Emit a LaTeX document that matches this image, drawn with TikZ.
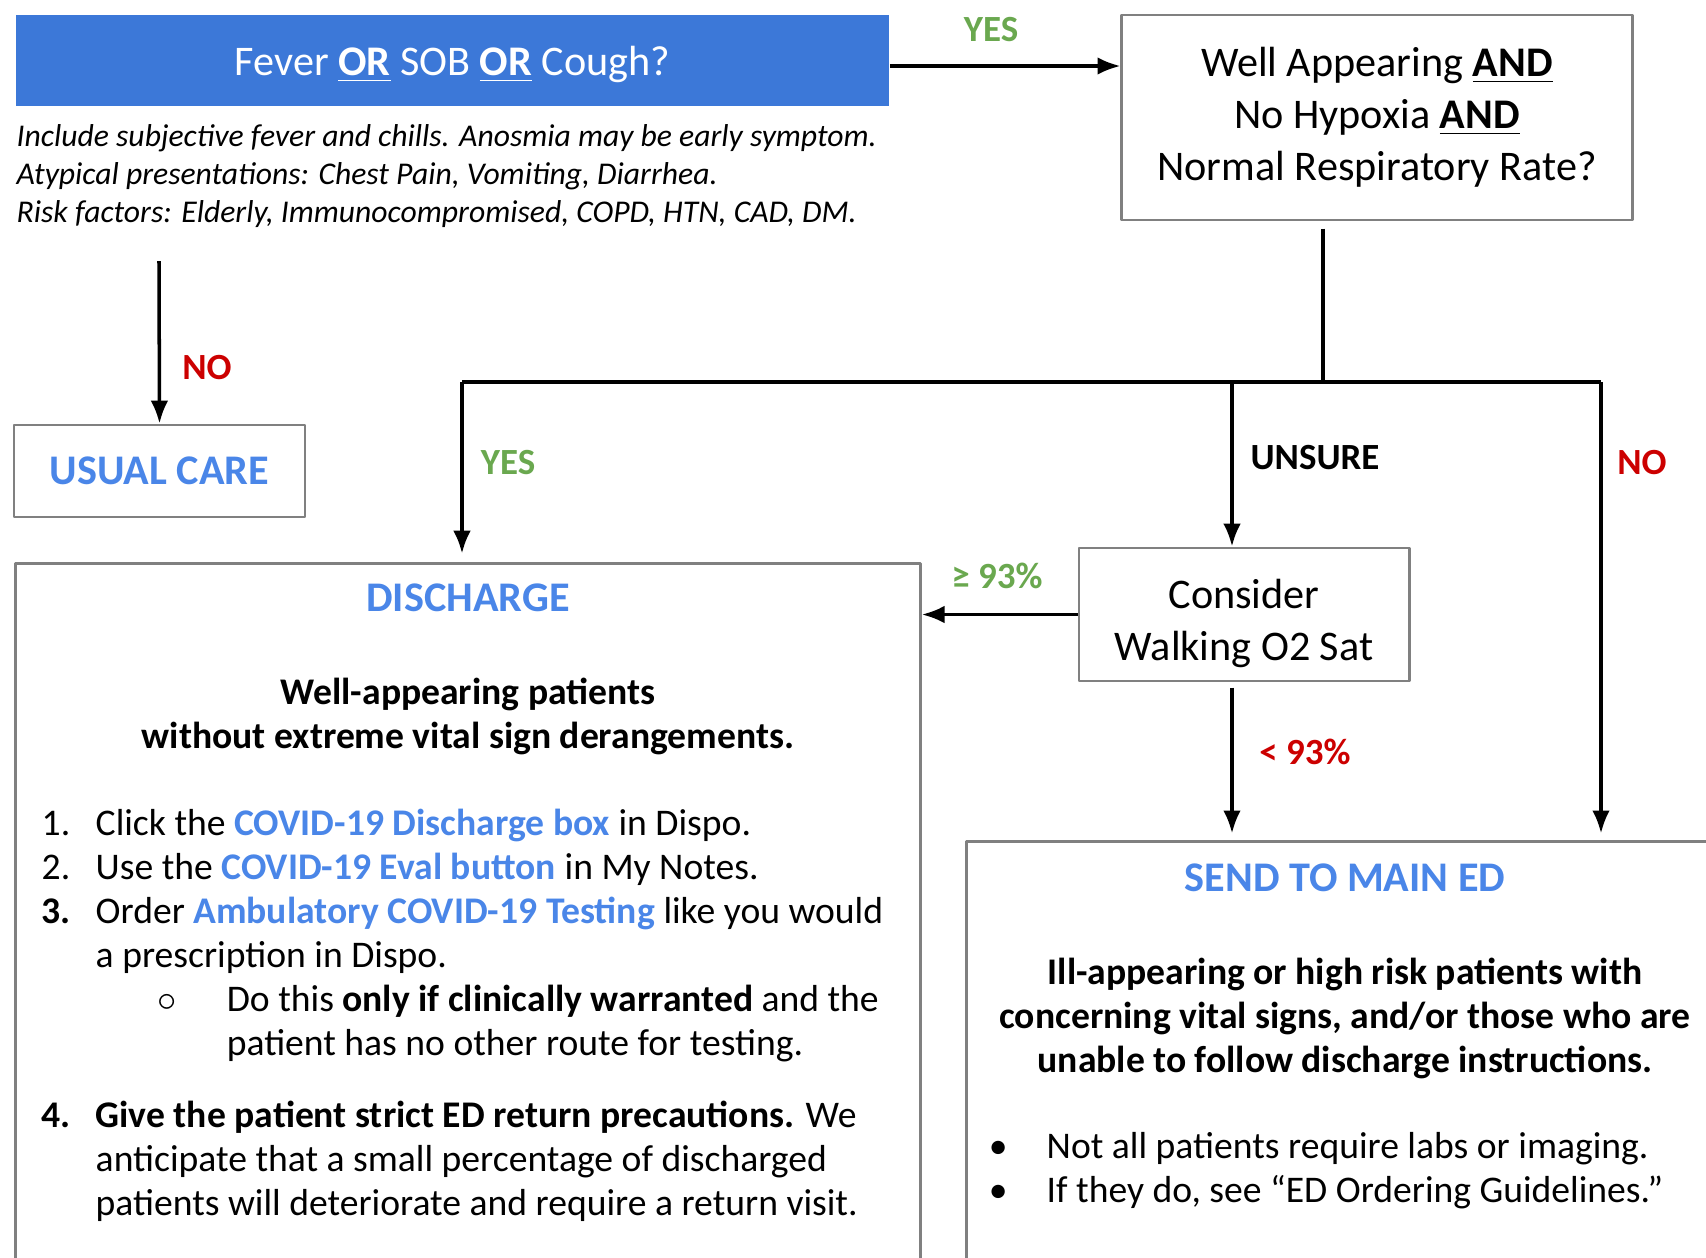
\documentclass[tikz,border=0pt]{standalone}
\usepackage{fontspec}
\setmainfont{Carlito}
\usetikzlibrary{arrows.meta}
\definecolor{boxblue}{HTML}{3C78D8}
\definecolor{txtblue}{HTML}{4A86E8}
\definecolor{yesgreen}{HTML}{6AA84F}
\definecolor{nored}{HTML}{CC0000}
\definecolor{framegray}{HTML}{808080}
\newcommand\blu[1]{\textcolor{txtblue}{\textbf{#1}}}
\newcommand\itm[1]{\makebox[0.54cm][l]{#1}}
\newcommand\bul{\makebox[0.49cm][l]{\kern-2.5pt\textbullet}}
\begin{document}
\begin{tikzpicture}[x=0.01cm,y=-0.01cm,>={Latex[length=6.5pt,width=5pt]},line join=round,
  box/.style={draw=framegray,line width=.8pt,inner sep=0pt},
  qtext/.style={font=\fontsize{12}{14.8}\selectfont},
  body/.style={font=\fontsize{10.7}{12.5}\selectfont},
  head/.style={font=\fontsize{12}{14}\selectfont\bfseries,text=txtblue},
  lbl/.style={font=\fontsize{10.5}{12}\selectfont\bfseries},
  conn/.style={line width=1pt}]
\useasboundingbox (0,0) rectangle (1706,1257);
% boxes
\node[fill=boxblue,minimum width=8.73cm,minimum height=0.91cm,text=white,text depth=0pt,qtext] (fever) at (452.5,60.5)
  {Fever \underline{\textbf{OR}} SOB \underline{\textbf{OR}} Cough?};
\node[box,minimum width=5.1cm,minimum height=2.05cm,align=center,qtext] (well) at (1377,117.5)
  {Well Appearing \underline{\textbf{AND}}\\No Hypoxia \underline{\textbf{AND}}\\Normal Respiratory Rate?};
\node[anchor=base west,inner sep=0pt,align=left,font=\fontsize{9}{10.7}\selectfont\itshape] (notes) at (16,222)
  {Include subjective fever and chills. Anosmia may be early symptom.\\
   Atypical presentations: Chest Pain, Vomiting, Diarrhea.\\
   Risk factors: Elderly, Immunocompromised, COPD, HTN, CAD, DM.};
\node[box,minimum width=2.91cm,minimum height=0.92cm,head] (usual) at (159.5,471) {USUAL CARE};
\node[box,minimum width=9.04cm,minimum height=7.36cm] (disch) at (468,932) {};
\node[box,minimum width=3.3cm,minimum height=1.33cm] (walk) at (1244,614.5) {};
\node[align=center,qtext] (walktext) at (1244,623.5) {Consider\\Walking O2 Sat};
\node[box,minimum width=7.93cm,minimum height=4.58cm] (send) at (1363.5,1071) {};
% discharge text
\node[head] (dtitle) at (468,598) {DISCHARGE};
\node[align=center,font=\fontsize{10.7}{12.5}\selectfont\bfseries] (dwho) at (468,716)
  {Well-appearing patients\\without extreme vital sign derangements.};
\node[anchor=base west,inner sep=0pt,align=left,body] (dlist) at (41,1215)
  {\itm{1.}Click the \blu{COVID-19 Discharge box} in Dispo.\\
   \itm{2.}Use the \blu{COVID-19 Eval button} in My Notes.\\
   \itm{\textbf{3.}}Order \blu{Ambulatory COVID-19 Testing} like you would\\
   \hspace*{0.54cm}a prescription in Dispo.\\
   \hspace*{1.16cm}\makebox[0.69cm][l]{$\circ$}Do this \textbf{only if clinically warranted} and the\\
   \hspace*{1.85cm}patient has no other route for testing.\\[8pt]
   \itm{\textbf{4.}}\textbf{Give the patient strict ED return precautions.} We\\
   \hspace*{0.54cm}anticipate that a small percentage of discharged\\
   \hspace*{0.54cm}patients will deteriorate and require a return visit.};
% main ED text
\node[head] (stitle) at (1345,878) {SEND TO MAIN ED};
\node[align=center,font=\fontsize{10.7}{12.5}\selectfont\bfseries] (swho) at (1345,1018)
  {Ill-appearing or high risk patients with\\concerning vital signs, and/or those who are\\unable to follow discharge instructions.};
\node[anchor=base west,inner sep=0pt,align=left,body] (slist) at (997,1202)
  {\bul Not all patients require labs or imaging.\\
   \bul If they do, see “ED Ordering Guidelines.”};
% connectors
\path
(159,261) coordinate (nostart)
(1323,382) coordinate (split)
(462,382) coordinate (jyes)
(1232,382) coordinate (junsure)
(1601,382) coordinate (jno)
;
\draw[conn,->] ([yshift=-0.055cm]fever.east) -- ([yshift=-0.055cm]fever.east -| well.west);
\draw[conn,->] (nostart) -- (usual.north);
\draw[conn] ([yshift=-2pt]well.south -| split) -- (split);
\draw[line width=1.3pt] (jyes) -- (jno);
\draw[conn,->,shorten >=2.5pt] (jyes) -- (jyes |- disch.north);
\draw[conn,->] (junsure) -- (junsure |- walk.north);
\draw[conn,->,shorten >=2pt] (jno) -- (jno |- send.north);
\draw[conn,->] (walk.west) -- (walk.west -| disch.east);
\draw[conn,->,shorten <=1.5pt,shorten >=2pt] (walk.south -| junsure) -- (junsure |- send.north);
% labels
\node[lbl,text=yesgreen] (yes1) at (991,30) {YES};
\node[lbl,text=nored] (no1) at (207,368) {NO};
\node[lbl,text=yesgreen] (yes2) at (508,463) {YES};
\node[lbl] (unsure) at (1315,458) {UNSURE};
\node[lbl,text=nored] (no2) at (1642,463) {NO};
\node[lbl,text=yesgreen] (high) at (997,576) {≥ 93\%};
\node[lbl,text=nored] (low) at (1305,752) {< 93\%};
\end{tikzpicture}
\end{document}
